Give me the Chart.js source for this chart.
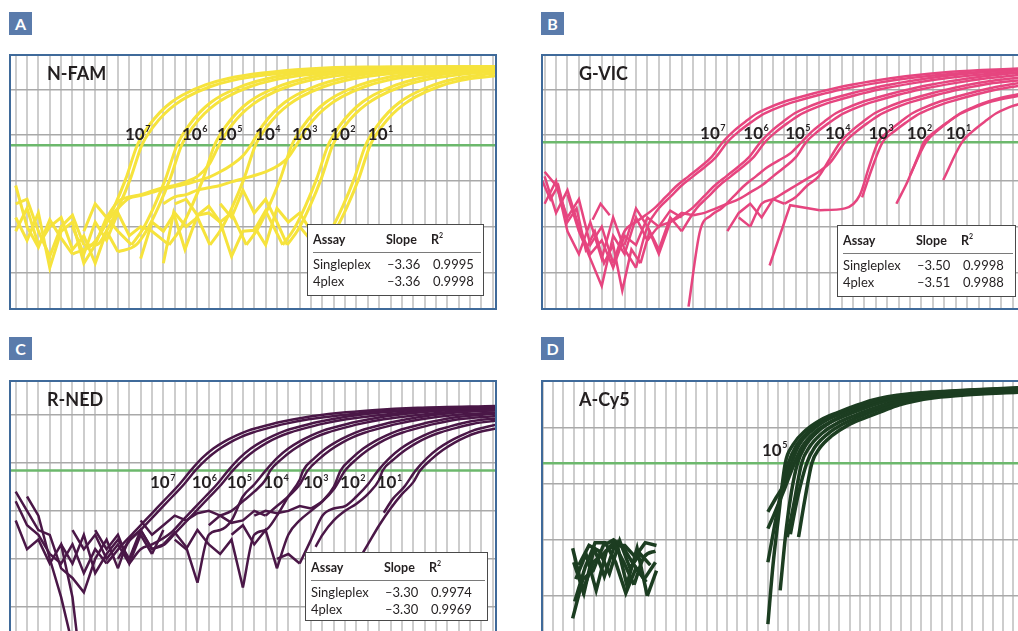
<!DOCTYPE html>
<html><head><meta charset="utf-8">
<script src="https://cdn.jsdelivr.net/npm/chart.js@4.4.0/dist/chart.umd.min.js"></script>
<style>
html,body{margin:0;padding:0;background:#fff;}
body{width:1018px;height:631px;position:relative;overflow:hidden;font-family:Lato,"Open Sans",sans-serif;color:#231f20;}
.tag{position:absolute;width:23px;height:23px;background:#5a7bab;color:#fff;font:bold 16px Lato;text-align:center;line-height:23px;}
.cv{position:absolute;}
.frame{position:absolute;border:0 solid #3f6a9a;box-sizing:border-box;pointer-events:none;}
.title{position:absolute;font:bold 18px Lato;line-height:18px;white-space:nowrap;}
.tbl{position:absolute;background:#fff;border:1.5px solid #4a4a4a;box-sizing:border-box;}
.tbl span{position:absolute;font:13px Lato;line-height:13px;white-space:nowrap;}
.tbl span.h{font-weight:bold;font-size:12.5px;}
.tbl sup{font-size:7px;vertical-align:6px;line-height:0;}
.tbl .sep{position:absolute;left:5px;right:2px;top:27px;height:0;border-top:1.5px solid #7a7a7a;}
</style></head>
<body>
<div class="tag" style="left:9px;top:12px">A</div>
<div class="tag" style="left:541px;top:12px">B</div>
<div class="tag" style="left:9px;top:337px">C</div>
<div class="tag" style="left:541px;top:337px">D</div>

<canvas id="cA" class="cv" width="486" height="253" style="left:10px;top:55px"></canvas>
<canvas id="cB" class="cv" width="476" height="253" style="left:542px;top:55px"></canvas>
<canvas id="cC" class="cv" width="486" height="250" style="left:10px;top:381px"></canvas>
<canvas id="cD" class="cv" width="476" height="250" style="left:542px;top:381px"></canvas>

<div class="frame" style="left:9px;top:54px;width:488px;height:256px;border-width:2px"></div>
<div class="frame" style="left:541px;top:54px;width:490px;height:256px;border-width:2px 0 2px 2px"></div>
<div class="frame" style="left:9px;top:380px;width:488px;height:260px;border-width:2px 2px 0 2px"></div>
<div class="frame" style="left:541px;top:380px;width:490px;height:260px;border-width:2px 0 0 2px"></div>

<div class="title" style="left:47px;top:64px">N-FAM</div>
<div class="title" style="left:579px;top:64px">G-VIC</div>
<div class="title" style="left:47px;top:390px">R-NED</div>
<div class="title" style="left:579px;top:390px">A-Cy5</div>

<div id="tA" class="tbl" style="left:307px;top:224px;width:177px;height:72px"></div>
<div id="tB" class="tbl" style="left:837px;top:225px;width:179px;height:72px"></div>
<div id="tC" class="tbl" style="left:305px;top:552px;width:183px;height:69px"></div>

<script>
// ---------- Panel A: N-FAM (cycle, log fluorescence) ----------
const famC7a = [[1,1.9],[2,1.0],[3,0.55],[4,1.15],[5,0.75],[6,0.4],[7.7,0.6],[8.7,0.95],[9.7,1.45],[10.7,2.05],[11.7,2.78],[12.7,3.2],[13.7,3.5],[14.7,3.72],[15.7,3.88],[17.7,4.1],[19.7,4.24],[22.7,4.36],[26.7,4.45],[31.7,4.49],[43.3,4.5]];
const famC7b = [[1,1.5],[2,1.6],[3,0.9],[4,0.35],[5,1.0],[6,1.25],[7,0.6],[8.1,0.6],[9.1,0.95],[10.1,1.45],[11.1,2.05],[12.1,2.78],[13.1,3.18],[14.1,3.47],[15.1,3.68],[16.1,3.84],[18.1,4.06],[20.1,4.2],[23.1,4.32],[27.1,4.41],[32.1,4.45],[43.3,4.47]];
const famC6a = [[1,1.2],[2,0.7],[3,1.3],[4,0.1],[5,0.9],[6,1.1],[7,0.2],[8,0.6],[9,1.2],[10,0.9],[11.2,0.6],[12.2,0.95],[13.2,1.45],[14.2,2.05],[15.2,2.78],[16.2,3.2],[17.2,3.5],[18.2,3.72],[19.2,3.88],[21.2,4.1],[23.2,4.24],[26.2,4.36],[30.2,4.45],[35.2,4.49],[43.3,4.5]];
const famC6b = [[1,0.9],[2,1.4],[3,0.6],[4,1.0],[5,1.2],[6,0.5],[7,0.8],[8,0.2],[9,0.9],[10,0.45],[11.6,0.6],[12.6,0.95],[13.6,1.45],[14.6,2.05],[15.6,2.78],[16.6,3.18],[17.6,3.47],[18.6,3.68],[19.6,3.84],[21.6,4.06],[23.6,4.2],[26.6,4.32],[30.6,4.41],[35.6,4.45],[43.3,4.46]];
const famC5a = [[6,1.0],[7,0.4],[8,1.1],[9,0.7],[10,1.3],[11,0.8],[12,1.0],[13,0.9],[14.5,0.6],[15.5,0.95],[16.5,1.45],[17.5,2.05],[18.5,2.78],[19.5,3.2],[20.5,3.5],[21.5,3.72],[22.5,3.88],[24.5,4.1],[26.5,4.24],[29.5,4.36],[33.5,4.45],[38.5,4.49],[43.3,4.5]];
const famC5b = [[7,0.9],[8,1.5],[9,1.2],[10,1.55],[11,1.65],[12,1.7],[13,1.78],[14,1.85],[15,1.9],[16,1.98],[17,2.1],[18,2.35],[18.9,2.78],[19.9,3.18],[20.9,3.47],[21.9,3.68],[22.9,3.84],[24.9,4.06],[26.9,4.2],[29.9,4.32],[33.9,4.41],[38.9,4.45],[43.3,4.46]];
const famC4a = [[9,1.1],[10,1.4],[11,1.62],[12,1.68],[13,1.75],[14,1.82],[15,1.88],[16,1.93],[17,2.0],[18,2.08],[19,2.2],[20,2.35],[21,2.55],[21.7,2.78],[22.7,3.2],[23.7,3.5],[24.7,3.72],[25.7,3.88],[27.7,4.1],[29.7,4.24],[32.7,4.36],[36.7,4.45],[43.3,4.49]];
const famC4b = [[12,0.3],[13,1.1],[14,0.9],[15,1.3],[16,1.0],[17,1.2],[18.1,0.6],[19.1,0.95],[20.1,1.45],[21.1,2.05],[22.1,2.78],[23.1,3.18],[24.1,3.47],[25.1,3.68],[26.1,3.84],[28.1,4.06],[30.1,4.2],[33.1,4.32],[37.1,4.41],[43.3,4.45]];
const famC3a = [[15,1.5],[16,1.6],[17,1.25],[18,1.45],[19,1.1],[20,1.3],[21.3,0.6],[22.3,0.95],[23.3,1.45],[24.3,2.05],[25.3,2.78],[26.3,3.2],[27.3,3.5],[28.3,3.72],[29.3,3.88],[31.3,4.1],[33.3,4.24],[36.3,4.36],[40.3,4.45],[43.3,4.47]];
const famC3b = [[14,1.5],[15,1.65],[16,1.7],[17,1.8],[18,1.85],[19,1.9],[20,1.98],[21,2.05],[22,2.12],[23,2.2],[24,2.32],[25,2.52],[25.7,2.78],[26.7,3.18],[27.7,3.47],[28.7,3.68],[29.7,3.84],[31.7,4.06],[33.7,4.2],[36.7,4.32],[40.7,4.41],[43.3,4.44]];
const famC2a = [[14,0.2],[14.9,1.3],[15.9,0.5],[17,1.25],[18,1.3],[19,1.1],[20,0.35],[21,0.9],[22,0.92],[23,1.35],[24.5,0.6],[25.5,0.95],[26.5,1.45],[27.5,2.05],[28.5,2.78],[29.5,3.2],[30.5,3.5],[31.5,3.72],[32.5,3.88],[34.5,4.1],[36.5,4.24],[39.5,4.36],[43.3,4.44]];
const famC2b = [[19,1.5],[20,1.2],[21,1.8],[22,1.3],[23,1.6],[24,1.1],[24.9,0.6],[25.9,0.95],[26.9,1.45],[27.9,2.05],[28.9,2.78],[29.9,3.18],[30.9,3.47],[31.9,3.68],[32.9,3.84],[34.9,4.06],[36.9,4.2],[39.9,4.32],[43.3,4.4]];
const famC1a = [[22,1.0],[23,0.6],[24,1.4],[25,1.1],[26,1.3],[27,0.9],[27.8,0.6],[28.8,0.95],[29.8,1.45],[30.8,2.05],[31.8,2.78],[32.8,3.2],[33.8,3.5],[34.8,3.72],[35.8,3.88],[37.8,4.1],[39.8,4.24],[43.3,4.36]];
const famC1b = [[26,1.0],[27,0.7],[28.2,0.6],[29.2,0.95],[30.2,1.45],[31.2,2.05],[32.2,2.78],[33.2,3.18],[34.2,3.47],[35.2,3.68],[36.2,3.84],[38.2,4.06],[40.2,4.2],[43.3,4.3]];
const famThreshold = 2.78;
const famLabelX = [10.62,15.64,18.72,22.07,25.32,28.67,32.0];
const famLabelY = 2.9;
const famTable = [["Singleplex","\u20133.36","0.9995"],["4plex","\u20133.36","0.9998"]];

// ---------- Panel B: G-VIC ----------
const vicC7a = [[1,2.2],[2,1.9],[3,1.2],[4,1.6],[5,0.6],[6,1.0],[7,0.2],[8,0.9],[9,1.1],[10.6,1.4],[11.6,1.65],[12.6,1.9],[13.6,2.1],[14.6,2.3],[15.6,2.52],[16.6,2.85],[17.6,3.1],[18.6,3.3],[19.6,3.48],[20.6,3.6],[21.6,3.7],[22.6,3.78],[24.6,3.92],[26.6,4.04],[29.6,4.18],[32.6,4.29],[36.6,4.39],[42.5,4.46]];
const vicC7b = [[1,1.5],[2,2.0],[3,0.9],[4,0.4],[5,1.1],[6,0.3],[7,1.2],[8,0.5],[9,0.1],[10,1.0],[11,1.4],[12,1.65],[13,1.9],[14,2.1],[15,2.3],[16,2.52],[17,2.85],[18,3.08],[19,3.27],[20,3.44],[21,3.56],[22,3.66],[23,3.74],[25,3.88],[27,4.0],[30,4.14],[33,4.25],[37,4.35],[42.5,4.42]];
const vicC6a = [[3,1.7],[4,0.9],[5,0.3],[6,-0.3],[7,0.8],[8,0.4],[9,1.2],[10,0.7],[11,1.0],[12,1.1],[13.9,1.4],[14.9,1.65],[15.9,1.9],[16.9,2.1],[17.9,2.3],[18.9,2.52],[19.9,2.85],[20.9,3.1],[21.9,3.3],[22.9,3.48],[23.9,3.6],[24.9,3.7],[25.9,3.78],[27.9,3.92],[29.9,4.04],[32.9,4.18],[35.9,4.29],[39.9,4.39],[42.5,4.43]];
const vicC6b = [[10,1.0],[11,0.5],[12,1.2],[13,0.9],[14.3,1.4],[15.3,1.65],[16.3,1.9],[17.3,2.1],[18.3,2.3],[19.3,2.52],[20.3,2.85],[21.3,3.08],[22.3,3.27],[23.3,3.44],[24.3,3.56],[25.3,3.66],[26.3,3.74],[28.3,3.88],[30.3,4.0],[33.3,4.14],[36.3,4.25],[40.3,4.35],[42.5,4.38]];
const vicC5a = [[13.6,-0.75],[14.6,0.9],[15.6,1.25],[16.5,1.4],[17.5,1.65],[18.5,1.9],[19.5,2.1],[20.5,2.3],[21.5,2.45],[22.5,2.6],[23.5,2.85],[24.5,3.1],[25.5,3.3],[26.5,3.48],[27.5,3.6],[28.5,3.7],[29.5,3.78],[31.5,3.92],[33.5,4.04],[36.5,4.18],[39.5,4.29],[42.5,4.37]];
const vicC5b = [[8,0.6],[9,1.4],[10,1.0],[11,0.4],[12,1.1],[13,1.3],[14,1.25],[15,1.3],[16,1.4],[17,1.5],[18,1.6],[19,1.75],[20,1.9],[21,2.1],[22,2.3],[23,2.52],[23.9,2.85],[24.9,3.08],[25.9,3.27],[26.9,3.44],[27.9,3.56],[28.9,3.66],[29.9,3.74],[31.9,3.88],[33.9,4.0],[36.9,4.14],[39.9,4.25],[42.5,4.32]];
const vicC4a = [[17,0.9],[18,1.3],[19,1.5],[20,1.2],[21,1.6],[22,1.5],[23,1.65],[24,1.9],[25,2.1],[26,2.5],[26.9,2.85],[27.9,3.1],[28.9,3.3],[29.9,3.48],[30.9,3.6],[31.9,3.7],[32.9,3.78],[34.9,3.92],[36.9,4.04],[39.9,4.18],[42.5,4.26]];
const vicC4b = [[18,1.2],[19,1.0],[20,1.5],[21,1.6],[22,1.75],[23,1.9],[24,2.05],[25,2.2],[26,2.4],[27.3,2.85],[28.3,3.08],[29.3,3.27],[30.3,3.44],[31.3,3.56],[32.3,3.66],[33.3,3.74],[35.3,3.88],[37.3,4.0],[40.3,4.14],[42.5,4.2]];
const vicC3a = [[20.7,0.15],[22.5,1.47],[25.1,1.36],[27.3,1.4],[28.6,1.69],[29.4,2.3],[30.2,2.85],[31.2,3.1],[32.2,3.3],[33.2,3.48],[34.2,3.6],[35.2,3.7],[36.2,3.78],[38.2,3.92],[40.2,4.04],[42.5,4.14]];
const vicC3b = [[28.8,1.64],[29.7,2.3],[30.6,2.85],[31.6,3.08],[32.6,3.27],[33.6,3.44],[34.6,3.56],[35.6,3.66],[36.6,3.74],[38.6,3.88],[40.6,4.0],[42.5,4.08]];
const vicC2a = [[33.0,2.13],[34.4,2.85],[35.4,3.1],[36.4,3.3],[37.4,3.48],[38.4,3.6],[39.4,3.7],[40.4,3.78],[42.5,3.9]];
const vicC2b = [[31.8,1.5],[32.8,2.0],[33.8,2.6],[34.2,2.85],[35.2,3.08],[36.2,3.27],[37.2,3.44],[38.2,3.56],[39.2,3.66],[40.2,3.74],[42.5,3.86]];
const vicC1a = [[35.9,2.02],[37.55,2.85],[38.55,3.1],[39.55,3.3],[40.55,3.48],[41.55,3.6],[42.5,3.68]];
const vicN1 = [[0.8,2.0],[1.5,1.6],[2.2,1.9],[3,1.1],[3.8,1.4],[4.6,0.5],[5.4,0.9],[6.2,0.2],[7,0.6],[7.8,-0.4],[8.6,0.5],[9.4,0.2],[10.2,0.9]];
const vicN2 = [[5.2,1.15],[5.9,1.5],[6.7,1.25]];
const vicN3 = [[1,2.1],[2,1.3],[3,1.8],[4,1.0],[5,0.4],[6,0.7],[7,0.1],[8,0.8],[9,0.6],[10,1.2],[11,1.0],[12,1.35],[13,1.2]];
const vicThreshold = 2.845;
const vicLabelX = [14.61,18.4,22.06,25.55,29.35,32.71,36.12];
const vicLabelY = 2.92;
const vicTable = [["Singleplex","\u20133.50","0.9998"],["4plex","\u20133.51","0.9988"]];

// ---------- Panel C: R-NED ----------
const nedC7a = [[1,2.2],[2,1.7],[3,1.5],[4,1.1],[5,0.9],[6,1.3],[7,0.7],[8,1.2],[9,0.9],[10.4,1.3],[11.4,1.55],[12.4,1.8],[13.4,2.05],[14.4,2.3],[15.4,2.55],[16.4,2.84],[17.4,3.1],[18.4,3.3],[19.4,3.45],[20.4,3.57],[21.4,3.67],[22.4,3.74],[24.4,3.86],[26.4,3.95],[29.4,4.04],[32.4,4.1],[36.4,4.15],[43.3,4.19]];
const nedC7b = [[1,2.4],[2,2.0],[3,1.6],[4,1.5],[5,0.8],[6,0.6],[7,0.3],[8,1.0],[9,1.4],[10,0.8],[10.8,1.3],[11.8,1.55],[12.8,1.8],[13.8,2.05],[14.8,2.3],[15.8,2.55],[16.8,2.84],[17.8,3.08],[18.8,3.27],[19.8,3.42],[20.8,3.54],[21.8,3.63],[22.8,3.7],[24.8,3.82],[26.8,3.91],[29.8,4.0],[32.8,4.07],[36.8,4.12],[43.3,4.16]];
const nedC6a = [[6,1.6],[7,1.2],[8,1.5],[9,1.0],[10,1.3],[11,0.9],[12,1.2],[13,1.3],[14.7,1.55],[15.7,1.8],[16.7,2.05],[17.7,2.3],[18.7,2.55],[19.7,2.84],[20.7,3.1],[21.7,3.3],[22.7,3.45],[23.7,3.57],[24.7,3.67],[25.7,3.74],[27.7,3.86],[29.7,3.95],[32.7,4.04],[35.7,4.1],[39.7,4.15],[43.3,4.17]];
const nedC6b = [[5,1.3],[6,0.9],[7,1.5],[8,0.7],[9,1.1],[10,1.4],[11,1.0],[12,1.6],[13,1.2],[14.1,1.3],[15.1,1.55],[16.1,1.8],[17.1,2.05],[18.1,2.3],[19.1,2.55],[20.1,2.84],[21.1,3.08],[22.1,3.27],[23.1,3.42],[24.1,3.54],[25.1,3.63],[26.1,3.7],[28.1,3.82],[30.1,3.91],[33.1,4.0],[36.1,4.07],[40.1,4.12],[43.3,4.14]];
const nedC5a = [[10,1.0],[11,1.4],[12,1.6],[13,1.2],[14,1.3],[15,1.55],[16,1.25],[17,0.5],[18,1.5],[19,1.6],[20,1.8],[21,2.3],[22,2.55],[23,2.84],[24,3.1],[25,3.3],[26,3.45],[27,3.57],[28,3.67],[29,3.74],[31,3.86],[33,3.95],[36,4.04],[39,4.1],[43.3,4.14]];
const nedC5b = [[12,1.8],[13,1.5],[14,1.7],[15,1.9],[16,1.8],[17,1.95],[18,2.0],[19,1.9],[20,2.0],[21,2.2],[22,2.4],[23,2.65],[23.4,2.84],[24.4,3.08],[25.4,3.27],[26.4,3.42],[27.4,3.54],[28.4,3.63],[29.4,3.7],[31.4,3.82],[33.4,3.91],[36.4,4.0],[39.4,4.07],[43.3,4.1]];
const nedC4a = [[15,1.4],[16,1.2],[17,1.6],[18,1.3],[19,1.1],[20,1.4],[21,0.4],[22,1.5],[23,1.6],[24,1.9],[25,2.3],[26,2.65],[26.3,2.84],[27.3,3.1],[28.3,3.3],[29.3,3.45],[30.3,3.57],[31.3,3.67],[32.3,3.74],[34.3,3.86],[36.3,3.95],[39.3,4.04],[43.3,4.1]];
const nedC4b = [[18,1.7],[19,1.9],[20,1.75],[21,1.8],[22,2.0],[23,1.9],[24,2.1],[25,2.3],[26,2.55],[26.7,2.84],[27.7,3.08],[28.7,3.27],[29.7,3.42],[30.7,3.54],[31.7,3.63],[32.7,3.7],[34.7,3.82],[36.7,3.91],[39.7,4.0],[43.3,4.05]];
const nedC3a = [[20,1.5],[21,1.7],[22,1.3],[23,1.6],[24,0.8],[25,1.5],[26,1.8],[27,2.0],[28,2.2],[29,2.5],[29.6,2.84],[30.6,3.1],[31.6,3.3],[32.6,3.45],[33.6,3.57],[34.6,3.67],[35.6,3.74],[37.6,3.86],[39.6,3.95],[43.3,4.03]];
const nedC3b = [[22,1.9],[23,2.0],[24,1.95],[25,2.0],[26,2.1],[27,2.05],[28,2.2],[29,2.45],[30,2.84],[31,3.08],[32,3.27],[33,3.42],[34,3.54],[35,3.63],[36,3.7],[38,3.82],[40,3.91],[43.3,3.98]];
const nedC2a = [[24,1.0],[25,1.1],[26,0.9],[27,1.4],[28,1.9],[29,2.05],[30,2.1],[31,2.3],[32,2.55],[32.9,2.84],[33.9,3.1],[34.9,3.3],[35.9,3.45],[36.9,3.57],[37.9,3.67],[38.9,3.74],[40.9,3.86],[43.3,3.93]];
const nedC2b = [[27.4,1.25],[28,1.5],[29,1.8],[30,2.0],[31,2.15],[32,2.35],[33,2.65],[33.3,2.84],[34.3,3.08],[35.3,3.27],[36.3,3.42],[37.3,3.54],[38.3,3.63],[39.3,3.7],[41.3,3.82],[43.3,3.88]];
const nedC1a = [[33.4,1.96],[34.2,2.25],[35.2,2.5],[36.2,2.84],[37.2,3.1],[38.2,3.3],[39.2,3.45],[40.2,3.57],[41.2,3.67],[43.3,3.8]];
const nedC1b = [[31,0.9],[32,1.3],[33,1.7],[34,2.05],[35,2.35],[36,2.6],[36.6,2.84],[37.6,3.08],[38.6,3.27],[39.6,3.42],[40.6,3.54],[41.6,3.63],[43.3,3.72]];
const nedN1 = [[2,2.3],[3,1.9],[4,1.0],[5,0.2],[5.8,-0.6]];
const nedN2 = [[1,1.8],[2,1.2],[3,1.4],[4,0.9],[5,1.3],[6,0.2],[6.4,-0.6]];
const nedN3 = [[8,1.6],[9,1.2],[10,1.5],[11,0.9],[12,1.5],[13,1.1],[14,1.6]];
const nedThreshold = 2.84;
const nedLabelX = [12.82,16.49,19.57,22.8,26.29,29.55,32.78];
const nedLabelY = 2.47;
const nedTable = [["Singleplex","\u20133.30","0.9974"],["4plex","\u20133.30","0.9969"]];

// ---------- Panel D: A-Cy5 ----------
const cy5C1 = [[23.0,-0.5],[23.5,0.55],[24.0,1.35],[24.7,2.365],[25.45,2.69],[26.7,2.95],[28.2,3.14],[29.7,3.26],[31.7,3.4],[33.2,3.49],[34.7,3.55],[36.7,3.6],[39.7,3.64],[42.7,3.67],[47.6,3.71]];
const cy5C2 = [[23.0,0.6],[23.6,1.2],[24.3,1.85],[25.0,2.365],[25.75,2.67],[27.0,2.93],[28.5,3.12],[30.0,3.24],[32.0,3.38],[33.5,3.47],[35.0,3.53],[37.0,3.58],[40.0,3.62],[43.0,3.65],[47.6,3.69]];
const cy5C3 = [[23.0,1.5],[23.8,1.75],[24.6,2.0],[25.3,2.365],[26.05,2.69],[27.3,2.95],[28.8,3.14],[30.3,3.26],[32.3,3.4],[33.8,3.49],[35.3,3.55],[37.3,3.6],[40.3,3.64],[43.3,3.67],[47.6,3.7]];
const cy5C4 = [[23.0,1.2],[23.6,1.45],[24.5,1.85],[25.6,2.365],[26.35,2.66],[27.6,2.92],[29.1,3.1],[30.6,3.22],[32.6,3.36],[34.1,3.45],[35.6,3.51],[37.6,3.56],[40.6,3.61],[43.6,3.64],[47.6,3.67]];
const cy5C5 = [[24.2,0.1],[24.8,1.2],[25.3,1.85],[25.9,2.365],[26.65,2.67],[27.9,2.93],[29.4,3.12],[30.9,3.24],[32.9,3.38],[34.4,3.47],[35.9,3.53],[37.9,3.58],[40.9,3.62],[43.9,3.65],[47.6,3.68]];
const cy5C6 = [[24.9,1.05],[25.5,1.6],[26.3,2.365],[27.05,2.65],[28.3,2.9],[29.8,3.08],[31.3,3.2],[33.3,3.34],[34.8,3.43],[36.3,3.5],[38.3,3.55],[41.3,3.6],[44.3,3.63],[47.6,3.66]];
const cy5C7 = [[25.2,1.1],[25.9,1.75],[26.8,2.365],[27.55,2.64],[28.8,2.88],[30.3,3.06],[31.8,3.18],[33.8,3.32],[35.3,3.41],[36.8,3.48],[38.8,3.54],[41.8,3.59],[44.8,3.62],[47.6,3.64]];
const cy5C8 = [[26.0,1.05],[26.6,1.7],[27.3,2.365],[28.05,2.63],[29.3,2.86],[30.8,3.04],[32.3,3.16],[34.3,3.3],[35.8,3.4],[37.3,3.47],[39.3,3.53],[42.3,3.58],[47.6,3.63]];
const cy5N1 = [[3.9,0.85],[4.9,0.1],[5.9,0.6],[6.9,0.75],[7.9,0.95],[8.9,0.6],[9.9,0.2],[10.9,0.7],[12.0,0.8]];
const cy5N2 = [[3.9,-0.4],[4.9,0.3],[5.9,0.45],[6.9,0.9],[7.9,1.0],[8.9,0.85],[9.9,0.55],[10.9,0.3],[12.0,0.6]];
const cy5N3 = [[4.2,0.3],[5.2,0.75],[6.2,0.1],[7.2,0.8],[8.2,0.95],[9.2,0.2],[10.2,0.85],[11.2,0.0],[12.1,0.45]];
const cy5N4 = [[4.0,0.6],[5.0,0.05],[6.0,0.85],[7.0,0.35],[8.0,0.9],[9.0,0.9],[10.0,0.7],[11.0,0.95],[12.1,0.9]];
const cy5N5 = [[4.5,0.55],[5.5,0.9],[6.5,0.8],[7.5,0.4],[8.5,0.98],[9.5,0.5],[10.5,0.75],[11.5,0.55]];
const cy5N6 = [[4.1,-0.1],[5.1,0.5],[6.1,0.95],[7.1,0.95],[8.1,0.6],[9.1,0.05],[10.1,0.5],[11.1,0.25]];
const cy5Threshold = 2.365;
const cy5LabelX = [22.42];
const cy5LabelY = 2.5;

const labelExps = ["7","6","5","4","3","2","1"];
const cy5Exps = ["5"];

// ---------- drawing ----------
const dilLabels = {
  id: 'dilLabels',
  afterDatasetsDraw(chart, args, o) {
    const {ctx, scales: {x, y}} = chart;
    ctx.save();
    ctx.fillStyle = '#231f20';
    ctx.textBaseline = 'alphabetic';
    o.xs.forEach((v, i) => {
      const px = x.getPixelForValue(v), py = y.getPixelForValue(o.y);
      ctx.font = 'bold 17px Lato';
      ctx.fillText('10', px, py);
      const w = ctx.measureText('10').width;
      ctx.font = 'bold 9px Lato';
      ctx.fillText(o.exps[i], px + w + 0.5, py - 7.5);
    });
    ctx.restore();
  }
};

function intTicks(s) {
  const t = [];
  for (let v = Math.ceil(s.min); v <= s.max; v++) t.push({value: v});
  s.ticks = t;
}

// split a curve into its jagged baseline part and its final rising run
function splitCurve(c) {
  let s = c.length - 1;
  while (s > 0 && c[s - 1][1] <= c[s][1]) s--;
  return [c.slice(0, s + 1), c.slice(s)];
}

function makeChart(id, xr, yr, curves, color, lw, thr, lx, ly, exps) {
  const ds = [];
  curves.forEach(c => {
    const [base, rise] = splitCurve(c);
    if (base.length > 1) ds.push({
      data: base.map(p => ({x: p[0], y: p[1]})),
      borderColor: color, borderWidth: lw, pointRadius: 0, fill: false,
      tension: 0, borderJoinStyle: 'miter', order: 0
    });
    if (rise.length > 1) ds.push({
      data: rise.map(p => ({x: p[0], y: p[1]})),
      borderColor: color, borderWidth: lw, pointRadius: 0, fill: false,
      cubicInterpolationMode: 'monotone', order: 0
    });
  });
  ds.push({
    data: [{x: xr[0], y: thr}, {x: xr[1], y: thr}],
    borderColor: '#6cb86c', borderWidth: 2.5, pointRadius: 0, fill: false, order: 100
  });
  new Chart(document.getElementById(id), {
    type: 'line',
    data: {datasets: ds},
    plugins: [dilLabels],
    options: {
      responsive: false, animation: false, maintainAspectRatio: false,
      layout: {padding: 0},
      events: [],
      plugins: {legend: {display: false}, tooltip: {enabled: false},
        dilLabels: {xs: lx, y: ly, exps: exps}},
      scales: {
        x: {type: 'linear', min: xr[0], max: xr[1],
          ticks: {display: false}, border: {display: false},
          grid: {color: '#cdcdcd', lineWidth: 2, drawTicks: false},
          afterBuildTicks: intTicks, afterFit: s => { s.height = 0; }},
        y: {type: 'linear', min: yr[0], max: yr[1],
          ticks: {display: false}, border: {display: false},
          grid: {color: '#a9a9a9', lineWidth: 1.5, drawTicks: false},
          afterBuildTicks: intTicks, afterFit: s => { s.width = 0; }}
      }
    }
  });
}

makeChart('cA', [0.5, 43.28], [-0.78, 4.755],
  [famC7a,famC7b,famC6a,famC6b,famC5a,famC5b,famC4a,famC4b,famC3a,famC3b,famC2a,famC2b,famC1a,famC1b],
  '#f6e33c', 3, famThreshold, famLabelX, famLabelY, labelExps);
makeChart('cB', [0.77, 42.45], [-0.78, 4.755],
  [vicN1,vicN2,vicN3,vicC7a,vicC7b,vicC6a,vicC6b,vicC5a,vicC5b,vicC4a,vicC4b,vicC3a,vicC3b,vicC2a,vicC2b,vicC1a],
  '#e6457f', 2.5, vicThreshold, vicLabelX, vicLabelY, labelExps);
makeChart('cC', [0.5, 43.28], [-0.507, 4.71],
  [nedN1,nedN2,nedN3,nedC7a,nedC7b,nedC6a,nedC6b,nedC5a,nedC5b,nedC4a,nedC4b,nedC3a,nedC3b,nedC2a,nedC2b,nedC1a,nedC1b],
  '#4a1747', 2.5, nedThreshold, nedLabelX, nedLabelY, labelExps);
makeChart('cD', [0.9, 47.47], [-0.624, 3.83],
  [cy5N1,cy5N2,cy5N3,cy5N4,cy5N5,cy5N6,cy5C1,cy5C2,cy5C3,cy5C4,cy5C5,cy5C6,cy5C7,cy5C8],
  '#1c3d21', 3.5, cy5Threshold, cy5LabelX, cy5LabelY, cy5Exps);

function fillTable(id, rows) {
  const el = document.getElementById(id);
  const add = (txt, l, t, cls) => {
    const s = document.createElement('span');
    if (cls) s.className = cls;
    s.style.left = l + 'px'; s.style.top = t + 'px';
    s.innerHTML = txt; el.appendChild(s);
  };
  add('Assay', 5, 8, 'h'); add('Slope', 78, 8, 'h'); add('R<sup>2</sup>', 123, 8, 'h');
  const sep = document.createElement('div'); sep.className = 'sep'; el.appendChild(sep);
  rows.forEach((r, i) => {
    const t = 33 + i * 17;
    add(r[0], 5, t); add(r[1], 79, t); add(r[2], 125, t);
  });
}
fillTable('tA', famTable);
fillTable('tB', vicTable);
fillTable('tC', nedTable);
</script>
</body></html>
